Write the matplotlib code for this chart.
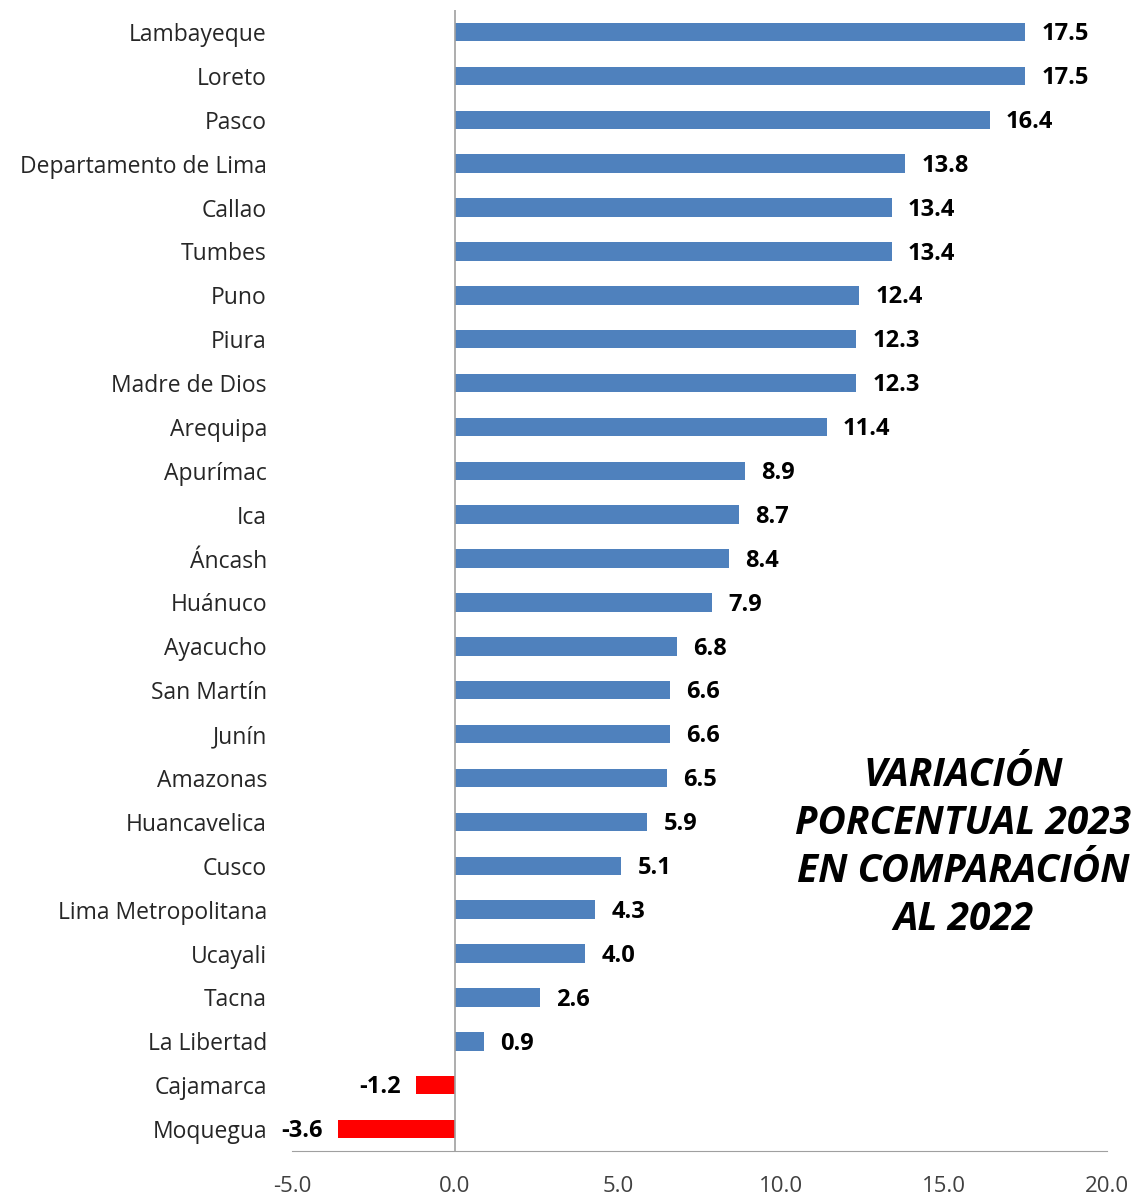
import matplotlib as mpl
mpl.use('Agg')
import matplotlib.pyplot as plt

regiones = ["Lambayeque", "Loreto", "Pasco", "Departamento de Lima", "Callao",
            "Tumbes", "Puno", "Piura", "Madre de Dios", "Arequipa", "Apurímac",
            "Ica", "Áncash", "Huánuco", "Ayacucho", "San Martín", "Junín",
            "Amazonas", "Huancavelica", "Cusco", "Lima Metropolitana", "Ucayali",
            "Tacna", "La Libertad", "Cajamarca", "Moquegua"]
variacion = [17.5, 17.5, 16.4, 13.8, 13.4, 13.4, 12.4, 12.3, 12.3, 11.4, 8.9,
             8.7, 8.4, 7.9, 6.8, 6.6, 6.6, 6.5, 5.9, 5.1, 4.3, 4.0, 2.6, 0.9,
             -1.2, -3.6]
ticks_x = [-5, 0, 5, 10, 15, 20]

plt.rcParams['font.family'] = ['Open Sans', 'DejaVu Sans']

fig = plt.figure(figsize=(11.33, 11.96), dpi=100)
ax = fig.add_axes([0.2577, 0.0376, 0.977 - 0.2577, 0.9916 - 0.0376])

n = len(regiones)
pos = [n - 1 - i for i in range(n)]
colores = ['#4F81BD' if v >= 0 else '#FF0000' for v in variacion]
ax.barh(pos, variacion, height=0.42, color=colores)

for p, v in zip(pos, variacion):
    if v >= 0:
        ax.text(v + 0.5, p - 0.05, "%.1f" % v, ha='left', va='center',
                fontsize=17, fontweight='bold', color='black')
    else:
        ax.text(v - 0.45, p - 0.05, "%.1f" % v, ha='right', va='center',
                fontsize=17, fontweight='bold', color='black')

ax.set_xlim(-5, 20)
ax.set_ylim(-0.5, n - 0.5)
ax.set_xticks(ticks_x)
ax.set_xticklabels(["%.1f" % t for t in ticks_x], fontsize=16, color='#404040')
ax.set_yticks(pos)
ax.set_yticklabels(regiones, fontsize=16.5, color='#262626')
ax.tick_params(axis='both', length=0)
ax.tick_params(axis='x', pad=18)
ax.tick_params(axis='y', pad=18)

for s in ['top', 'right', 'left']:
    ax.spines[s].set_visible(False)
ax.spines['bottom'].set_color('#A0A0A0')
ax.axvline(0, color='#A0A0A0', linewidth=1.2)

ax.text(0.85, 0.291,
        "VARIACIÓN\nPORCENTUAL 2023\nEN COMPARACIÓN\nAL 2022",
        transform=fig.transFigure, ha='center', va='center',
        fontsize=28, fontweight='bold', fontstyle='italic',
        linespacing=1.3, color='black')

fig.savefig('out.png', dpi=100)
